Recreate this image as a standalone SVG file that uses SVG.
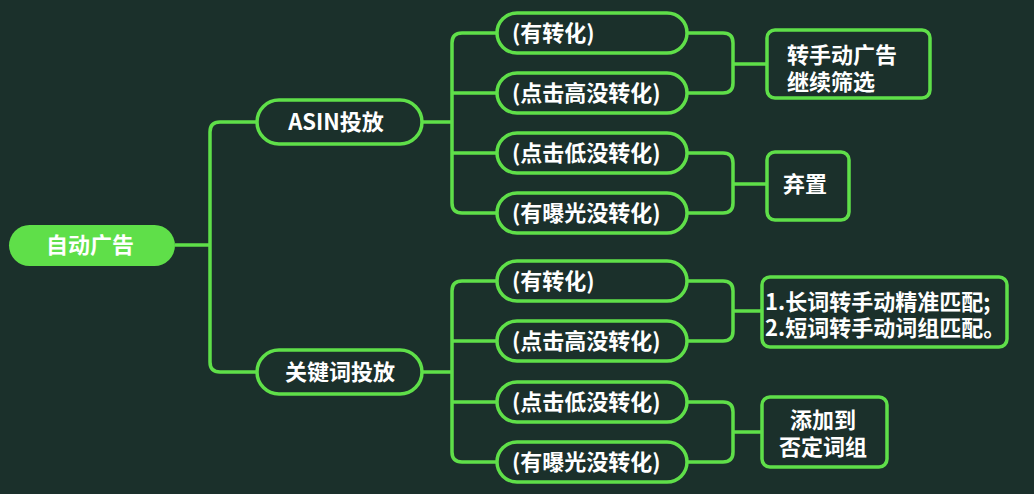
<svg xmlns="http://www.w3.org/2000/svg" width="1034" height="494" viewBox="0 0 1034 494">
<style>
.bg{fill:#1b302b}
.ln{fill:none;stroke:#5fdf49;stroke-width:3.5;stroke-linejoin:round}
.pill{fill:#1b302b;stroke:#5fdf49;stroke-width:3.5}
.box{fill:#1b302b;stroke:#5fdf49;stroke-width:3.5}
.root{fill:#5fdf49}
text{font-family:"Noto Sans CJK SC","Noto Sans",sans-serif;font-size:22px;font-weight:bold;fill:#ffffff}
.m{text-anchor:middle}
</style>
<rect class="bg" x="0" y="0" width="1034" height="494"/>
<g id="connectors">
<path class="ln" d="M175 245 H210"/>
<path class="ln" d="M257 122 H220 Q210 122 210 132 V362 Q210 372 220 372 H257"/>
<path class="ln" d="M422 122 H452"/>
<path class="ln" d="M497 33 H462 Q452 33 452 43 V203 Q452 213 462 213 H497"/>
<path class="ln" d="M452 93 H497 M452 153 H497"/>
<path class="ln" d="M422 372 H452"/>
<path class="ln" d="M497 281 H462 Q452 281 452 291 V452 Q452 462 462 462 H497"/>
<path class="ln" d="M452 341 H497 M452 402 H497"/>
<path class="ln" d="M687 33 H723 Q733 33 733 43 V83 Q733 93 723 93 H687"/>
<path class="ln" d="M733 64 H767"/>
<path class="ln" d="M687 153 H723 Q733 153 733 163 V203 Q733 213 723 213 H687"/>
<path class="ln" d="M733 184 H767"/>
<path class="ln" d="M687 281 H723 Q733 281 733 291 V331 Q733 341 723 341 H687"/>
<path class="ln" d="M733 311 H762"/>
<path class="ln" d="M687 402 H723 Q733 402 733 412 V452 Q733 462 723 462 H687"/>
<path class="ln" d="M733 432 H762"/>
</g>
<g id="root">
<rect class="root" x="9" y="225" width="166" height="41" rx="20.5"/>
<text class="m" x="90" y="253">自动广告</text>
</g>
<g id="asin">
<rect class="pill" x="257" y="100" width="165" height="44" rx="22"/>
<text class="m" x="336" y="130">ASIN投放</text>
</g>
<g id="kw">
<rect class="pill" x="257" y="350" width="165" height="44" rx="22"/>
<text class="m" x="340" y="380">关键词投放</text>
</g>
<g id="a1"><rect class="pill" x="497" y="13" width="190" height="40" rx="20"/><text x="512" y="41">(有转化)</text></g>
<g id="a2"><rect class="pill" x="497" y="73" width="190" height="40" rx="20"/><text x="512" y="101">(点击高没转化)</text></g>
<g id="a3"><rect class="pill" x="497" y="133" width="190" height="40" rx="20"/><text x="512" y="161">(点击低没转化)</text></g>
<g id="a4"><rect class="pill" x="497" y="193" width="190" height="40" rx="20"/><text x="512" y="221">(有曝光没转化)</text></g>
<g id="k1"><rect class="pill" x="497" y="261" width="190" height="40" rx="20"/><text x="512" y="289">(有转化)</text></g>
<g id="k2"><rect class="pill" x="497" y="321" width="190" height="40" rx="20"/><text x="512" y="349">(点击高没转化)</text></g>
<g id="k3"><rect class="pill" x="497" y="382" width="190" height="40" rx="20"/><text x="512" y="410">(点击低没转化)</text></g>
<g id="k4"><rect class="pill" x="497" y="442" width="190" height="40" rx="20"/><text x="512" y="470">(有曝光没转化)</text></g>
<g id="r1">
<rect class="box" x="767" y="30" width="163" height="68" rx="8"/>
<text x="787" y="63">转手动广告</text>
<text x="787" y="90">继续筛选</text>
</g>
<g id="r2">
<rect class="box" x="767" y="152" width="82" height="68" rx="8"/>
<text class="m" x="805" y="192">弃置</text>
</g>
<g id="r3">
<rect class="box" x="762" y="277" width="245" height="70" rx="8"/>
<text x="765" y="310">1.长词转手动精准匹配;</text>
<text x="765" y="336">2.短词转手动词组匹配。</text>
</g>
<g id="r4">
<rect class="box" x="762" y="397" width="125" height="70" rx="8"/>
<text class="m" x="823" y="428">添加到</text>
<text class="m" x="823" y="455">否定词组</text>
</g>
</svg>
